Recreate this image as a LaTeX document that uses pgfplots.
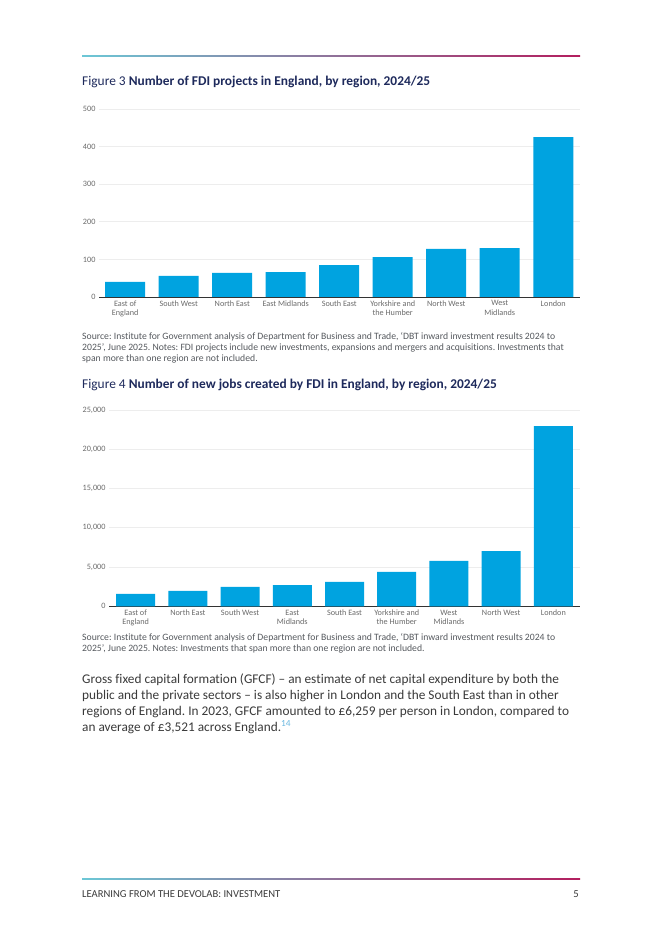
\documentclass[border=0pt]{standalone}
\usepackage{fontspec}
\setmainfont{Carlito}[Ligatures=NoCommon]
\usepackage{pgfplots}
\pgfplotsset{compat=1.18}
\frenchspacing

\definecolor{barblue}{HTML}{00A3E0}
\definecolor{navy}{HTML}{1E2A5C}
\definecolor{srcgray}{HTML}{55595E}
\definecolor{bodygray}{HTML}{3A3A3A}
\definecolor{tickgray}{HTML}{6B6B6B}
\definecolor{gridgray}{HTML}{EDEDED}
\definecolor{lineteal}{HTML}{6CC7D6}
\definecolor{linered}{HTML}{B31E5E}
\definecolor{noteblue}{HTML}{6BB8E0}

\pgfplotsset{
  regionbars/.style={
    scale only axis,
    ybar, bar width=40pt,
    ymin=0,
    axis x line*=bottom, axis y line*=left,
    y axis line style={draw=none},
    x axis line style={draw=black!80, line width=0.8pt, -},
    ymajorgrids, grid style={gridgray, line width=0.6pt},
    major tick length=0pt,
    xtick=data,
    tick label style={font=\fontsize{8.2}{9.3}\selectfont, text=tickgray},
    x tick label style={align=center},
    /pgf/number format/assume math mode=true,
    /pgf/number format/1000 sep={,},
  }
}

\newcommand{\srcfont}{\fontsize{9.7}{11}\selectfont\color{srcgray}}
\newcommand{\bodyfont}{\fontsize{13.3}{16}\selectfont\color{bodygray}}
\newcommand{\titlefont}{\fontsize{13.4}{15}\selectfont}
\newcommand{\footfont}{\fontsize{10.6}{12}\selectfont}

\begin{document}
\begin{tikzpicture}
\fill[white] (0,0) rectangle (662pt,936pt);

% header rule
\shade[left color=lineteal, right color=linered] (82pt,879.5pt) rectangle (580pt,880.5pt);

% Figure 3
\node[anchor=base west, inner sep=0, text=navy, font=\titlefont]
  at (82pt,850pt) {Figure 3 \textbf{Number of FDI projects in England, by region, 2024/25}};

\begin{axis}[regionbars,
  at={(99pt,639pt)}, anchor=south west,
  width=481pt, height=188pt,
  xmin=-0.49, xmax=8.5, ymax=500,
  ytick={0,100,...,500},
  xticklabels={East of\\England, South West, North East, East Midlands, South East,
    Yorkshire and\\the Humber, North West, West\\Midlands, London},
]
\addplot[fill=barblue, draw=none] table[x=idx, y=projects] {
idx projects
0 40
1 56
2 64
3 66
4 85
5 106
6 128
7 130
8 425
};
\end{axis}

\node[anchor=base west, inner sep=0, font=\srcfont] at (82pt,596pt)
  {Source: Institute for Government analysis of Department for Business and Trade, ‘DBT inward investment results 2024 to};
\node[anchor=base west, inner sep=0, font=\srcfont] at (82pt,585.2pt)
  {2025’, June 2025. Notes: FDI projects include new investments, expansions and mergers and acquisitions. Investments that};
\node[anchor=base west, inner sep=0, font=\srcfont] at (82pt,574.4pt)
  {span more than one region are not included.};

% Figure 4
\node[anchor=base west, inner sep=0, text=navy, font=\titlefont]
  at (82pt,547pt) {Figure 4 \textbf{Number of new jobs created by FDI in England, by region, 2024/25}};

\begin{axis}[regionbars,
  at={(109pt,329.7pt)}, anchor=south west,
  width=471pt, height=196.3pt,
  bar width=39pt,
  xmin=-0.51, xmax=8.51, ymax=25000,
  ytick={0,5000,...,25000},
  scaled y ticks=false,
  xticklabels={East of\\England, North East, South West, East\\Midlands, South East,
    Yorkshire and\\the Humber, West\\Midlands, North West, London},
]
\addplot[fill=barblue, draw=none] table[x=idx, y=jobs] {
idx jobs
0 1570
1 1950
2 2460
3 2710
4 3100
5 4370
6 5770
7 7040
8 22960
};
\end{axis}

\node[anchor=base west, inner sep=0, font=\srcfont] at (82pt,295pt)
  {Source: Institute for Government analysis of Department for Business and Trade, ‘DBT inward investment results 2024 to};
\node[anchor=base west, inner sep=0, font=\srcfont] at (82pt,284.2pt)
  {2025’, June 2025. Notes: Investments that span more than one region are not included.};

% body text
\node[anchor=base west, inner sep=0, font=\bodyfont] at (82pt,252.7pt)
  {Gross fixed capital formation (GFCF) – an estimate of net capital expenditure by both the};
\node[anchor=base west, inner sep=0, font=\bodyfont] at (82pt,236.6pt)
  {public and the private sectors – is also higher in London and the South East than in other};
\node[anchor=base west, inner sep=0, font=\bodyfont] at (82pt,220.5pt)
  {regions of England. In 2023, GFCF amounted to £6,259 per person in London, compared to};
\node[anchor=base west, inner sep=0, font=\bodyfont] at (82pt,204.4pt)
  {an average of £3,521 across England.\textsuperscript{\color{noteblue}14}};

% footer
\shade[left color=lineteal, right color=linered] (82pt,56.5pt) rectangle (580pt,57.5pt);
\node[anchor=base west, inner sep=0, font=\footfont, text=bodygray]
  at (82pt,38.5pt) {LEARNING FROM THE DEVOLAB: INVESTMENT};
\node[anchor=base east, inner sep=0, font=\footfont, text=bodygray]
  at (579pt,38.5pt) {5};
\end{tikzpicture}
\end{document}
